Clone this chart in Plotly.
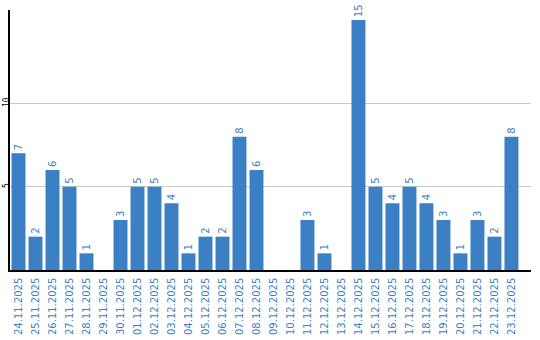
import plotly.graph_objects as go

dates = ["24.11.2025", "25.11.2025", "26.11.2025", "27.11.2025", "28.11.2025", "29.11.2025",
         "30.11.2025", "01.12.2025", "02.12.2025", "03.12.2025", "04.12.2025", "05.12.2025",
         "06.12.2025", "07.12.2025", "08.12.2025", "09.12.2025", "10.12.2025", "11.12.2025",
         "12.12.2025", "13.12.2025", "14.12.2025", "15.12.2025", "16.12.2025", "17.12.2025",
         "18.12.2025", "19.12.2025", "20.12.2025", "21.12.2025", "22.12.2025", "23.12.2025"]
counts = [7, 2, 6, 5, 1, 0, 3, 5, 5, 4, 1, 2, 2, 8, 6, 0, 0, 3, 1, 0, 15, 5, 4, 5, 4, 3, 1, 3, 2, 8]
labels = [str(v) if v else "" for v in counts]

BLUE = "#3b7fc4"

fig = go.Figure(go.Bar(
    x=dates, y=counts, text=labels, textposition="outside", textangle=-90,
    textfont=dict(family="DejaVu Sans", size=10, color=BLUE),
    marker=dict(color=BLUE, line=dict(width=0)), cliponaxis=False,
))

fig.update_layout(
    width=540, height=340, margin=dict(l=10, r=9, t=10, b=70),
    paper_bgcolor="white", plot_bgcolor="white", bargap=0.18, showlegend=False,
    xaxis=dict(type="category", range=[-0.5, 30.15], tickangle=-90, automargin=False,
               tickfont=dict(family="DejaVu Sans", size=10, color=BLUE),
               showgrid=False, showline=True, linecolor="black", linewidth=1.5,
               ticks="", fixedrange=True, ticklabelstandoff=2),
    yaxis=dict(range=[0, 15.6], tickangle=-90, automargin=False,
               tickfont=dict(family="DejaVu Sans Mono", size=8, color="black"),
               showgrid=True, gridcolor="#c8c8c8", gridwidth=1,
               showline=True, linecolor="black", linewidth=1.5, zeroline=False,
               ticks="", tickvals=[5, 10], ticklabelstandoff=-4),
)

fig.write_html("out.html")
